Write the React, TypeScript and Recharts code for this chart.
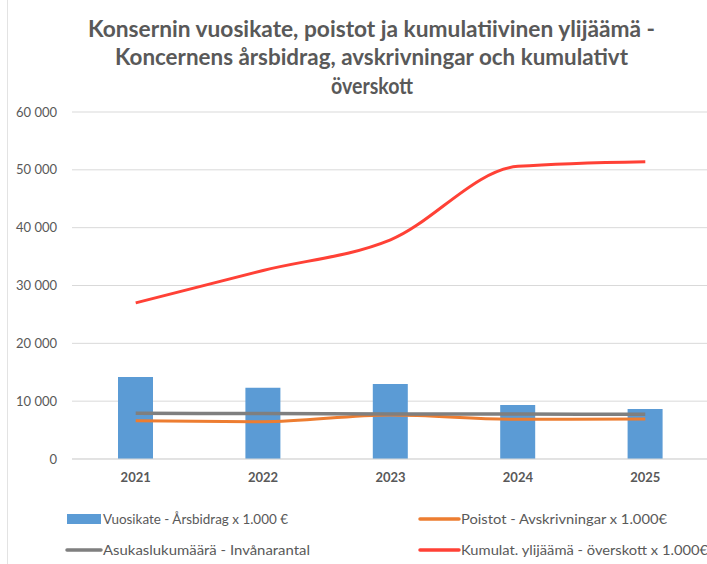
import { ComposedChart, Bar, Line, XAxis, YAxis, CartesianGrid } from "recharts";

const YEARS = ["2021", "2022", "2023", "2024", "2025"];
const VUOSIKATE = [14200, 12300, 12950, 9350, 8650];
const POISTOT = [6630, 6450, 7610, 6870, 6920];
const ASUKASLUKU = [7900, 7850, 7800, 7760, 7730];
const KUMULAT = [27000, 32600, 37900, 50600, 51400];
const Y_TICKS = [0, 10000, 20000, 30000, 40000, 50000, 60000];

const TITLE_LINES = [
  "Konsernin vuosikate, poistot ja kumulatiivinen ylijäämä -",
  "Koncernens årsbidrag, avskrivningar och kumulativt",
  "överskott",
];

const LEGEND = [
  { label: "Vuosikate - Årsbidrag x 1.000 €", color: "#5B9BD5", kind: "bar" },
  { label: "Poistot - Avskrivningar x 1.000€", color: "#ED7D31", kind: "line" },
  { label: "Asukaslukumäärä - Invånarantal", color: "#7F7F7F", kind: "line" },
  { label: "Kumulat. ylijäämä - överskott x 1.000€", color: "#FF4136", kind: "line" },
];

const data = YEARS.map((year, i) => ({
  year,
  vuosikate: VUOSIKATE[i],
  poistot: POISTOT[i],
  asukasluku: ASUKASLUKU[i],
  kumulat: KUMULAT[i],
}));

const TEXT = "#595959";
const FONT = "Lato, 'Open Sans', sans-serif";

const formatThousands = (v: number) =>
  String(v).replace(/\B(?=(\d{3})+(?!\d))/g, " ");

// title line geometry (x start / width / baseline)
const titleBoxes = [
  { x: 88, w: 567, y: 37 },
  { x: 115, w: 513, y: 65 },
  { x: 331, w: 82, y: 94 },
];

// legend slots: swatch x, text x, centre y, text width
const legendBoxes = [
  { sx: 67, tx: 103, y: 519, w: 185 },
  { sx: 420, tx: 461, y: 519, w: 206 },
  { sx: 67, tx: 103, y: 550, w: 207 },
  { sx: 420, tx: 461, y: 550, w: 247 },
];

export default function App() {
  return (
    <div
      style={{
        position: "absolute",
        top: 0,
        left: 0,
        width: 707,
        height: 564,
        overflow: "hidden",
        background: "#fff",
        fontFamily: FONT,
      }}
    >
      <ComposedChart
        width={712}
        height={564}
        data={data}
        margin={{ top: 112, right: 3, left: 0, bottom: 75 }}
      >
        <CartesianGrid vertical={false} stroke="#d9d9d9" />
        <XAxis
          dataKey="year"
          height={30}
          tickSize={0}
          tickMargin={14}
          axisLine={{ stroke: "#d9d9d9" }}
          tick={{ fontSize: 13, fontWeight: 700, fill: TEXT, fontFamily: FONT }}
        />
        <YAxis
          width={72}
          domain={[0, 60000]}
          ticks={Y_TICKS}
          tickFormatter={formatThousands}
          tickSize={0}
          tickMargin={15}
          axisLine={false}
          tick={{ fontSize: 13, fill: TEXT, fontFamily: FONT }}
        />
        <Bar dataKey="vuosikate" fill="#5B9BD5" barSize={35} isAnimationActive={false} />
        <Line
          type="monotone"
          dataKey="poistot"
          stroke="#ED7D31"
          strokeWidth={3}
          dot={false}
          isAnimationActive={false}
        />
        <Line
          type="monotone"
          dataKey="asukasluku"
          stroke="#7F7F7F"
          strokeWidth={3.5}
          dot={false}
          isAnimationActive={false}
        />
        <Line
          type="monotone"
          dataKey="kumulat"
          stroke="#FF4136"
          strokeWidth={3}
          dot={false}
          isAnimationActive={false}
        />
      </ComposedChart>

      {/* Title + legend overlay */}
      <svg
        width={707}
        height={564}
        style={{ position: "absolute", top: 0, left: 0, pointerEvents: "none" }}
      >
        <line x1={7.5} y1={0} x2={7.5} y2={564} stroke="#e3e3e3" />
        {TITLE_LINES.map((t, i) => (
          <text
            key={t}
            x={titleBoxes[i].x}
            y={titleBoxes[i].y}
            textLength={titleBoxes[i].w}
            lengthAdjust="spacingAndGlyphs"
            fontSize={22.5}
            fontWeight={700}
            fill={TEXT}
            fontFamily={FONT}
          >
            {t}
          </text>
        ))}
        {LEGEND.map((item, i) => {
          const b = legendBoxes[i];
          return (
            <g key={item.label}>
              {item.kind === "bar" ? (
                <rect x={b.sx} y={b.y - 5} width={34} height={10} fill={item.color} />
              ) : (
                <line
                  x1={b.sx}
                  y1={b.y}
                  x2={b.tx - 2}
                  y2={b.y}
                  stroke={item.color}
                  strokeWidth={3.5}
                  strokeLinecap="round"
                />
              )}
              <text
                x={b.tx}
                y={b.y + 5}
                textLength={b.w}
                lengthAdjust="spacingAndGlyphs"
                fontSize={14}
                fill={TEXT}
                fontFamily={FONT}
              >
                {item.label}
              </text>
            </g>
          );
        })}
      </svg>
    </div>
  );
}
